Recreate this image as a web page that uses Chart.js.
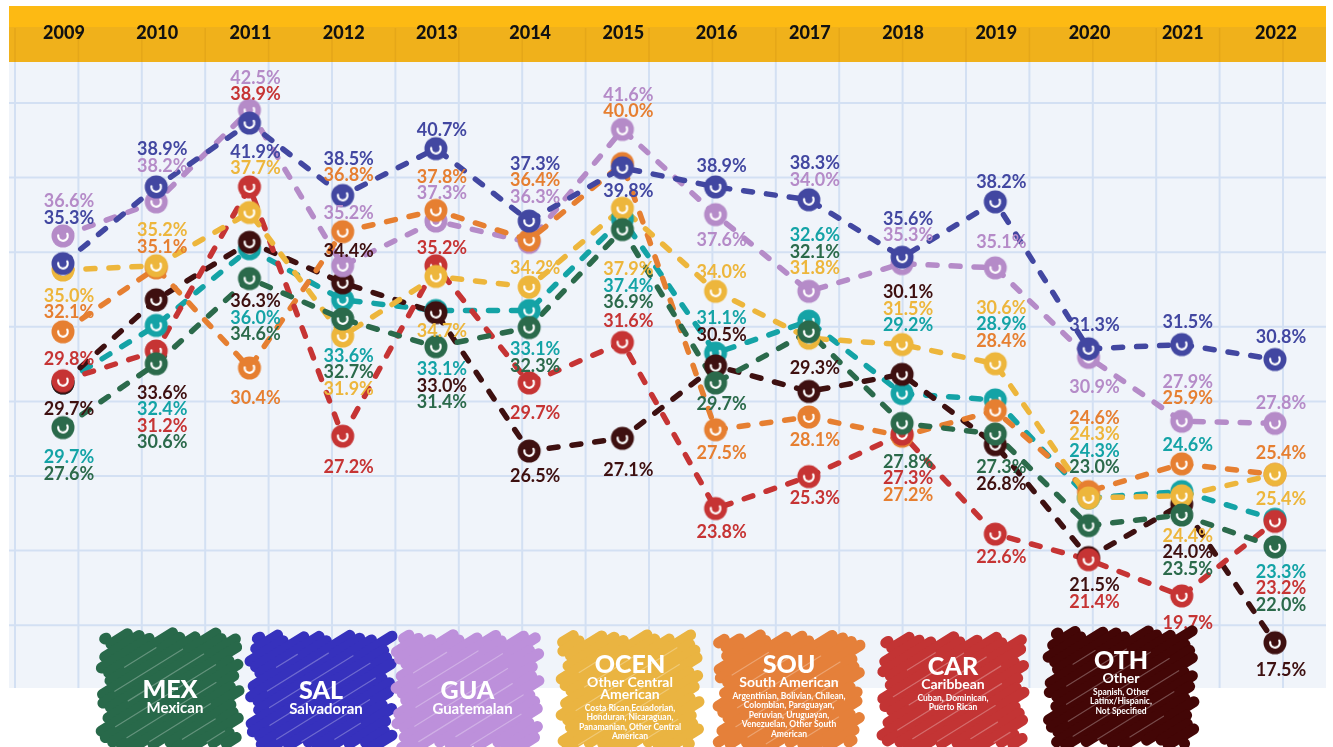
<!DOCTYPE html>
<html>
<head>
<meta charset="utf-8">
<script src="https://cdn.jsdelivr.net/npm/chart.js@4.4.0/dist/chart.umd.min.js"></script>
<style>
  html, body { margin: 0; padding: 0; background: #fff; }
  #wrap { width: 1333px; height: 747px; }
</style>
</head>
<body>
<div id="wrap"><canvas id="chart" width="1333" height="747"></canvas></div>
<script>
// ---- data (values in %) ----
const years = ['2009', '2010', '2011', '2012', '2013', '2014', '2015', '2016', '2017', '2018', '2019', '2020', '2021', '2022'];
const mex   = [27.6, 30.6, 34.6, 32.7, 31.4, 32.3, 36.9, 29.7, 32.1, 27.8, 27.3, 23.0, 23.5, 22.0];
const sal   = [35.3, 38.9, 41.9, 38.5, 40.7, 37.3, 39.8, 38.9, 38.3, 35.6, 38.2, 31.3, 31.5, 30.8];
const gua   = [36.6, 38.2, 42.5, 35.2, 37.3, 36.3, 41.6, 37.6, 34.0, 35.3, 35.1, 30.9, 27.9, 27.8];
const ocen  = [35.0, 35.2, 37.7, 31.9, 34.7, 34.2, 37.9, 34.0, 31.8, 31.5, 30.6, 24.3, 24.4, 25.4];
const sou   = [32.1, 35.1, 30.4, 36.8, 37.8, 36.4, 40.0, 27.5, 28.1, 27.2, 28.4, 24.6, 25.9, 25.4];
const car   = [29.8, 31.2, 38.9, 27.2, 35.2, 29.7, 31.6, 23.8, 25.3, 27.3, 22.6, 21.4, 19.7, 23.2];
const oth   = [29.7, 33.6, 36.3, 34.4, 33.0, 26.5, 27.1, 30.5, 29.3, 30.1, 26.8, 21.5, 24.0, 17.5];
const total = [29.7, 32.4, 36.0, 33.6, 33.1, 33.1, 37.4, 31.1, 32.6, 29.2, 28.9, 24.3, 24.6, 23.3];

// legend text
const legendCodes = ['MEX', 'SAL', 'GUA', 'OCEN', 'SOU', 'CAR', 'OTH'];
const legendNames = ['Mexican', 'Salvadoran', 'Guatemalan', 'Other Central\nAmerican', 'South American', 'Caribbean', 'Other'];
const legendNotes = [
  '', '', '',
  'Costa Rican,Ecuadorian,\nHonduran, Nicaraguan,\nPanamanian, Other Central\nAmerican',
  'Argentinian, Bolivian, Chilean,\nColombian, Paraguayan,\nPeruvian, Uruguayan,\nVenezuelan, Other South\nAmerican',
  'Cuban, Dominican,\nPuerto Rican',
  'Spanish, Other\nLatinx/Hispanic,\nNot Specified'
];

// series, first one drawn on top
const series = [
  { key: 'SAL',  data: sal,   color: '#4247A1', legend: '#3631BD' },
  { key: 'MEX',  data: mex,   color: '#2B6A4B', legend: '#28694A' },
  { key: 'OCEN', data: ocen,  color: '#EDB63C', legend: '#EAB441' },
  { key: 'CAR',  data: car,   color: '#C63434', legend: '#C33434' },
  { key: 'SOU',  data: sou,   color: '#E67F31', legend: '#E5803A' },
  { key: 'GUA',  data: gua,   color: '#B58BC8', legend: '#BD90DB' },
  { key: 'OTH',  data: oth,   color: '#3E1010', legend: '#430606' },
  { key: 'ALL',  data: total, color: '#14A3A6', legend: null }
];
const byKey = {};
series.forEach(s => byKey[s.key] = s);

// where each year's value labels sit: [anchor series, gap in px (neg = above), series listed top to bottom]
const labelLayout = [
  [['GUA', -18, 'GUA', 'SAL'], ['OCEN', 26, 'OCEN', 'SOU'], ['CAR', -22, 'CAR'], ['CAR', 28, 'OTH'], ['MEX', 30, 'ALL', 'MEX']],
  [['SAL', -21, 'SAL', 'GUA'], ['OCEN', -19, 'OCEN', 'SOU'], ['MEX', 29, 'OTH', 'ALL', 'CAR', 'MEX']],
  [['GUA', -16, 'GUA', 'CAR'], ['SAL', 29, 'SAL', 'OCEN'], ['MEX', 23, 'OTH', 'ALL', 'MEX'], ['SOU', 30, 'SOU']],
  [['SAL', -20, 'SAL', 'SOU'], ['SOU', -18, 'GUA'], ['GUA', -15, 'OTH'], ['OCEN', 20, 'ALL', 'MEX', 'OCEN'], ['CAR', 31, 'CAR']],
  [['SAL', -18, 'SAL'], ['SOU', -17, 'SOU', 'GUA'], ['CAR', -18, 'CAR'], ['OTH', 19, 'OCEN'], ['MEX', 23, 'ALL', 'OTH', 'MEX']],
  [['SAL', -24, 'SAL', 'SOU', 'GUA'], ['OCEN', -19, 'OCEN'], ['MEX', 22, 'ALL', 'MEX'], ['CAR', 30, 'CAR'], ['OTH', 25, 'OTH']],
  [['GUA', -18, 'GUA', 'SOU'], ['SAL', 23, 'SAL'], ['MEX', 40, 'OCEN', 'ALL', 'MEX'], ['CAR', -21, 'CAR'], ['OTH', 32, 'OTH']],
  [['SAL', -21, 'SAL'], ['GUA', 26, 'GUA'], ['OCEN', -19, 'OCEN'], ['ALL', -18, 'ALL', 'OTH'], ['MEX', 21, 'MEX'], ['SOU', 23, 'SOU'], ['CAR', 24, 'CAR']],
  [['SAL', -20, 'SAL', 'GUA'], ['GUA', -23, 'ALL', 'MEX', 'OCEN'], ['OTH', -23, 'OTH'], ['SOU', 23, 'SOU'], ['CAR', 22, 'CAR']],
  [['SAL', -22, 'SAL', 'GUA'], ['GUA', 29, 'OTH', 'OCEN', 'ALL'], ['SOU', 26, 'MEX', 'CAR', 'SOU']],
  [['SAL', -20, 'SAL'], ['GUA', -26, 'GUA'], ['OCEN', -23, 'OCEN', 'ALL', 'SOU'], ['OTH', 23, 'MEX', 'OTH'], ['CAR', 23, 'CAR']],
  [['SAL', -24, 'SAL'], ['GUA', 30, 'GUA'], ['SOU', -24, 'SOU', 'OCEN', 'ALL', 'MEX'], ['OTH', 28, 'OTH', 'CAR']],
  [['SAL', -22, 'SAL'], ['GUA', -23, 'GUA', 'SOU'], ['SOU', -19, 'ALL'], ['MEX', 21, 'OCEN', 'OTH', 'MEX'], ['CAR', 27, 'CAR']],
  [['SAL', -22, 'SAL'], ['GUA', -20, 'GUA'], ['OCEN', -21, 'SOU'], ['OCEN', 25, 'OCEN'], ['MEX', 25, 'ALL', 'CAR', 'MEX'], ['OTH', 27, 'OTH']]
];

// legend block boxes [x, y, w, h]
const legendBoxes = [
  [103, 634, 134, 113], [252, 636, 138, 111], [398, 636, 139, 111], [563, 636, 134, 111],
  [720, 636, 138, 111], [884, 638, 138, 109], [1050, 632, 142, 112]
];

const LABEL_FONT = 'bold 18px Lato, "Open Sans", sans-serif';
const LINE_H = 16.5;

// marker: filled dot with a little white swirl
function makeMarker(color) {
  const c = document.createElement('canvas');
  c.width = 28; c.height = 28;
  const g = c.getContext('2d');
  g.fillStyle = color;
  g.beginPath(); g.arc(14, 14, 11.5, 0, Math.PI * 2); g.fill();
  g.strokeStyle = '#fff';
  g.lineWidth = 2.2;
  g.lineCap = 'round';
  g.beginPath(); g.arc(14, 14, 4.8, -0.15 * Math.PI, 1.05 * Math.PI); g.stroke();
  return c;
}

function scribble(ctx, x, y, w, h, color, seed) {
  const k = 0.62;
  ctx.save();
  ctx.fillStyle = color;
  ctx.strokeStyle = color;
  ctx.fillRect(x + 12, y + 12, w - 24, h - 24);
  ctx.lineWidth = 11;
  ctx.lineCap = 'round';
  const cMin = y + k * x, cMax = y + h + k * (x + w);
  const strokes = [];
  let n = 0;
  for (let C = cMin + 6; C < cMax - 4; C += 9, n++) {
    let x1 = Math.max(x, (C - y - h) / k);
    let x2 = Math.min(x + w, (C - y) / k);
    if (x2 <= x1) continue;
    x1 += 3 + 5 * Math.sin(n * 1.7 + seed);
    x2 -= 3 + 5 * Math.cos(n * 2.3 + seed);
    ctx.beginPath();
    ctx.moveTo(x1, C - k * x1);
    ctx.lineTo(x2, C - k * x2);
    ctx.stroke();
    strokes.push([C, x1, x2, n]);
  }
  // faint light seams between strokes
  ctx.strokeStyle = 'rgba(255,255,255,0.28)';
  ctx.lineWidth = 1.2;
  strokes.forEach(([C, x1, x2, i]) => {
    if (i % 2) return;
    const a = x1 + 10 + 8 * Math.abs(Math.sin(i + seed));
    const b = x2 - 12 - 10 * Math.abs(Math.cos(i * 1.3 + seed));
    if (b - a < 15) return;
    ctx.beginPath();
    ctx.moveTo(a, C + 4.5 - k * a);
    ctx.lineTo(b, C + 4.5 - k * b);
    ctx.stroke();
  });
  ctx.restore();
}

const paperPlugin = {
  id: 'paper',
  beforeDraw(chart) {
    const ctx = chart.ctx;
    const xs = chart.scales.x;
    ctx.save();
    ctx.fillStyle = '#fff';
    ctx.fillRect(0, 0, chart.width, chart.height);
    // graph paper
    ctx.fillStyle = '#F0F4FA';
    ctx.fillRect(9, 62, 1317, 626);
    ctx.strokeStyle = '#D3E0F3';
    ctx.lineWidth = 2;
    for (let gx = 15; gx < 1326; gx += 63.4) {
      ctx.beginPath(); ctx.moveTo(gx, 62); ctx.lineTo(gx, 688); ctx.stroke();
    }
    for (let gy = 103; gy < 688; gy += 74.6) {
      ctx.beginPath(); ctx.moveTo(9, gy); ctx.lineTo(1326, gy); ctx.stroke();
    }
    // yellow header band
    ctx.fillStyle = '#FDBA13';
    ctx.fillRect(9, 6, 1317, 22);
    ctx.fillStyle = '#F0B11B';
    ctx.fillRect(9, 27, 1317, 35);
    ctx.strokeStyle = 'rgba(190,130,20,0.22)';
    ctx.lineWidth = 1.5;
    for (let gx = 15; gx < 1326; gx += 63.4) {
      ctx.beginPath(); ctx.moveTo(gx, 28); ctx.lineTo(gx, 62); ctx.stroke();
    }
    // years
    ctx.fillStyle = '#111';
    ctx.font = '900 18px Lato, "Open Sans", sans-serif';
    ctx.textAlign = 'center';
    ctx.textBaseline = 'middle';
    years.forEach((yr, i) => ctx.fillText(yr, xs.getPixelForValue(i) + 1, 33));
    ctx.restore();
  }
};

const labelPlugin = {
  id: 'valueLabels',
  afterDatasetsDraw(chart) {
    const ctx = chart.ctx;
    const xs = chart.scales.x, ys = chart.scales.y;
    ctx.save();
    ctx.font = LABEL_FONT;
    ctx.textAlign = 'center';
    ctx.textBaseline = 'middle';
    labelLayout.forEach((clusters, i) => {
      const px = xs.getPixelForValue(i) + 6;
      clusters.forEach(cl => {
        const anchorY = ys.getPixelForValue(byKey[cl[0]].data[i]);
        const gap = cl[1];
        const keys = cl.slice(2);
        keys.forEach((key, j) => {
          const s = byKey[key];
          const py = gap < 0
            ? anchorY + gap - (keys.length - 1 - j) * LINE_H
            : anchorY + gap + j * LINE_H;
          ctx.fillStyle = s.color;
          ctx.fillText(s.data[i].toFixed(1) + '%', px, py);
        });
      });
    });
    ctx.restore();
  }
};

const legendPlugin = {
  id: 'scribbleLegend',
  afterDraw(chart) {
    const ctx = chart.ctx;
    ctx.save();
    ctx.textBaseline = 'middle';
    legendCodes.forEach((code, i) => {
      const s = byKey[code];
      const [bx, by, bw, bh] = legendBoxes[i];
      scribble(ctx, bx, by, bw, bh, s.legend, i * 1.3);
      const cx = bx + bw / 2;
      const notes = legendNotes[i] ? legendNotes[i].split('\n') : [];
      const names = legendNames[i].split('\n');
      ctx.fillStyle = '#fff';
      ctx.textAlign = 'center';
      if (!notes.length) {
        ctx.font = '900 25px Lato, "Open Sans", sans-serif';
        ctx.fillText(code, cx, by + bh / 2 - 1);
        ctx.font = 'bold 15px Lato, "Open Sans", sans-serif';
        ctx.fillText(names[0], cx + 5, by + bh / 2 + 18);
      } else {
        let ty = by + 29;
        ctx.font = '900 25px Lato, "Open Sans", sans-serif';
        ctx.fillText(code, cx, ty);
        ty += 17;
        ctx.font = 'bold 14px Lato, "Open Sans", sans-serif';
        names.forEach(n => { ctx.fillText(n, cx, ty); ty += 12; });
        ty += 2;
        ctx.font = 'bold 8.5px Lato, "Open Sans", sans-serif';
        notes.forEach(n => { ctx.fillText(n, cx, ty); ty += 9.5; });
      }
    });
    ctx.restore();
  }
};

const datasets = [];
series.forEach(s => {
  datasets.push({
    label: s.key,
    data: s.data,
    borderColor: s.color,
    borderWidth: 5.5,
    borderDash: [9, 14],
    borderCapStyle: 'round',
    pointRadius: 0,
    fill: false,
    tension: 0,
    order: 2
  });
});
series.forEach(s => {
  datasets.push({
    label: s.key + ' points',
    data: s.data,
    showLine: false,
    pointStyle: makeMarker(s.color),
    pointRadius: 11,
    order: 1
  });
});

new Chart(document.getElementById('chart'), {
  type: 'line',
  data: { labels: years, datasets: datasets },
  options: {
    responsive: false,
    animation: false,
    events: [],
    devicePixelRatio: 1,
    layout: { padding: { left: 63, right: 58, top: 57, bottom: 51 } },
    scales: {
      x: { type: 'category', display: false, offset: false },
      y: { display: false, min: 15, max: 45 }
    },
    plugins: {
      legend: { display: false },
      tooltip: { enabled: false }
    }
  },
  plugins: [paperPlugin, labelPlugin, legendPlugin]
});
</script>
</body>
</html>
